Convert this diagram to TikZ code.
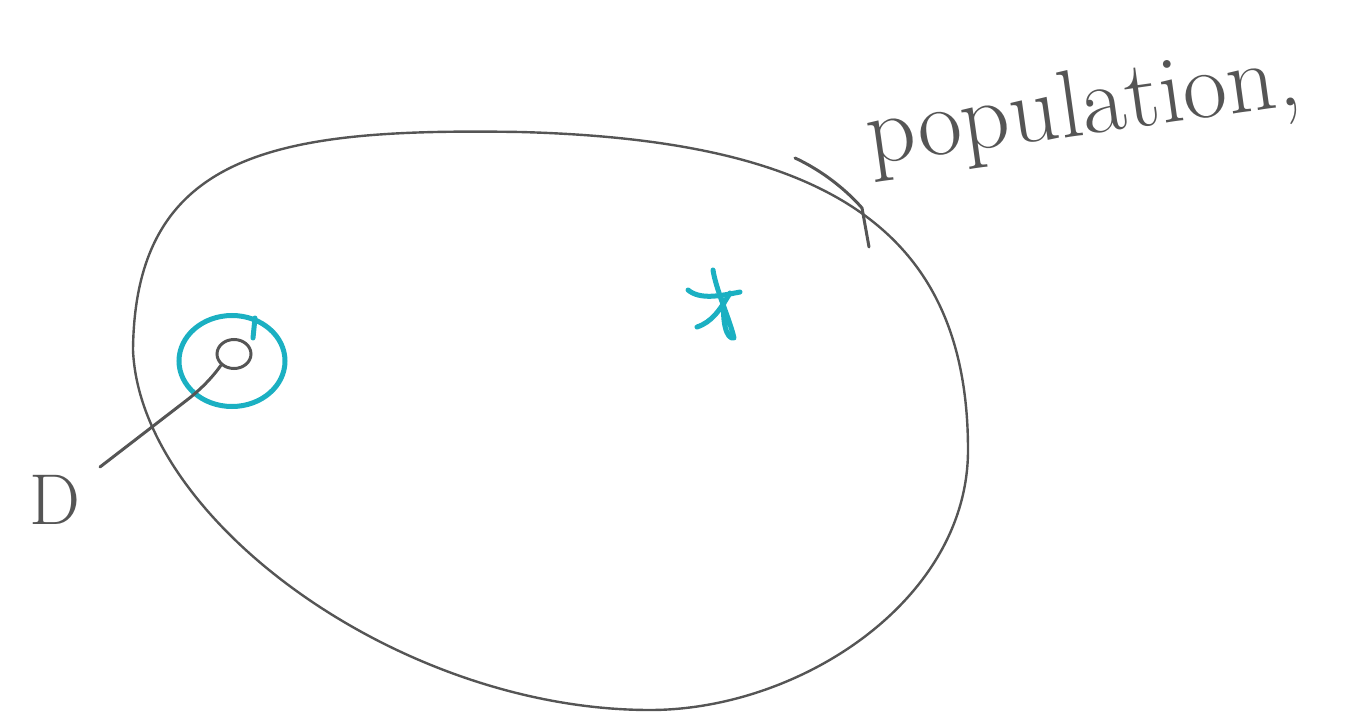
\documentclass[tikz,border=0pt]{standalone}
\usetikzlibrary{shapes.geometric}
\definecolor{pen}{HTML}{555555}
\definecolor{teal}{HTML}{1BB0C2}
\tikzset{
  penline/.style={draw=pen, line width=3pt, line cap=round, line join=round},
  thinpen/.style={draw=pen, line width=2.4pt, line cap=round, line join=round},
  tealline/.style={draw=teal, line width=5pt, line cap=round, line join=round},
  hand/.style={text=pen, inner sep=0pt}
}
\begin{document}
\begin{tikzpicture}[x=1pt,y=-1pt]
\useasboundingbox (0,0) rectangle (1359,714);
% population ellipse
\draw[thinpen] (133,350) .. controls (135,150) and (280,128) .. (520,132)
  .. controls (820,140) and (968,225) .. (968,450)
  .. controls (968,600) and (800,710) .. (650,710)
  .. controls (400,710) and (140,520) .. cycle;
% extra stroke near the label
\draw[penline] (795,158) .. controls (825,172) and (848,192) .. (862,208) -- (869,247);
% label
\node[hand, font=\fontsize{96}{96}\selectfont, rotate=8, anchor=base west] (pop) at (870,165) {population,};
% sample point and its circle
\node[ellipse, draw=pen, line width=3pt, minimum width=34pt, minimum height=29pt, inner sep=0pt] (dot) at (234,354) {};
\node[ellipse, draw=teal, line width=5pt, minimum width=106pt, minimum height=91pt] (ring) at (232,361) {};
\draw[tealline] (255,318) -- (253,338);
% D label and connector
\node[hand, font=\fontsize{72}{72}\selectfont] (D) at (55,500) {D};
\coordinate (dend) at (100,467);
\draw[penline] (dot.south west) .. controls (212,378) and (200,390) .. (187,400) -- (dend);
% star
\node[inner sep=0pt] (star) at (715,305) {};
\draw[tealline] (688,290) .. controls (700,300) and (720,296) .. (740,292);
\draw[tealline] (713,270) .. controls (716,290) and (730,320) .. (734,338) .. controls (726,340) and (722,320) .. (724,300);
\draw[tealline] (697,327) .. controls (712,322) and (720,310) .. (730,293);
\end{tikzpicture}
\end{document}
